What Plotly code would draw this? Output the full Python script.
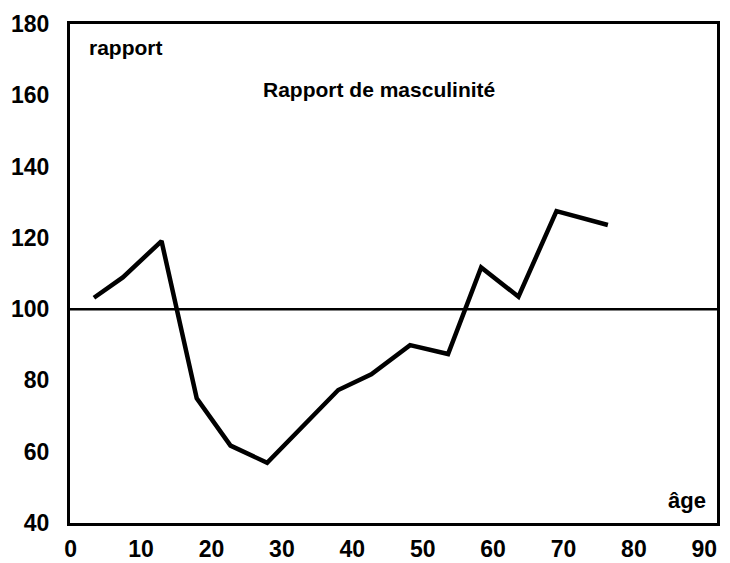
import plotly.graph_objects as go

# Data
ages = [3.3, 7.4, 12.9, 17.9, 22.7, 27.9, 38.0, 42.7, 48.2, 53.6, 58.3, 63.6, 69.0, 76.3]
ratio = [103.2, 108.9, 119.1, 75.0, 61.7, 56.9, 77.3, 81.7, 89.9, 87.4, 111.7, 103.5, 127.5, 123.6]
reference_level = 100
x_ticks = [0, 10, 20, 30, 40, 50, 60, 70, 80, 90]
y_ticks = [40, 60, 80, 100, 120, 140, 160, 180]

FONT = "Liberation Sans, Arial, sans-serif"

fig = go.Figure()
fig.add_trace(go.Scatter(
    x=ages, y=ratio, mode="lines",
    line=dict(color="black", width=4.5), showlegend=False,
))

fig.add_shape(type="line", xref="x domain", yref="y", x0=0, x1=1,
              y0=reference_level, y1=reference_level,
              line=dict(color="black", width=2.5))

# The page body adds an 8px offset, so the figure is sized to fit the window
fig.update_layout(
    width=722, height=555,
    margin=dict(l=62, r=13, t=16, b=40, autoexpand=False),
    paper_bgcolor="white", plot_bgcolor="white",
    font=dict(family=FONT, color="black"),
    xaxis=dict(range=[-0.1, 91.8], tickvals=x_ticks, showgrid=False, zeroline=False,
               showline=True, mirror=True, linecolor="black", linewidth=3,
               ticks="", ticklabelstandoff=3, automargin=False,
               tickfont=dict(size=23, family=FONT, weight="bold")),
    yaxis=dict(range=[40, 180], tickvals=y_ticks, showgrid=False, zeroline=False,
               showline=True, mirror=True, linecolor="black", linewidth=3,
               ticks="", ticklabelstandoff=13, automargin=False,
               tickfont=dict(size=23, family=FONT, weight="bold")),
    annotations=[
        dict(text="rapport", xref="paper", yref="paper", x=0.026, y=0.952,
             xanchor="left", yanchor="middle", showarrow=False,
             font=dict(size=21, family=FONT, weight="bold")),
        dict(text="Rapport de masculinité", xref="paper", yref="paper", x=0.478, y=0.868,
             xanchor="center", yanchor="middle", showarrow=False,
             font=dict(size=21, family=FONT, weight="bold")),
        dict(text="âge", xref="paper", yref="paper", x=0.954, y=0.046,
             xanchor="center", yanchor="middle", showarrow=False,
             font=dict(size=22, family=FONT, weight="bold")),
    ],
)

fig.write_html("out.html")
